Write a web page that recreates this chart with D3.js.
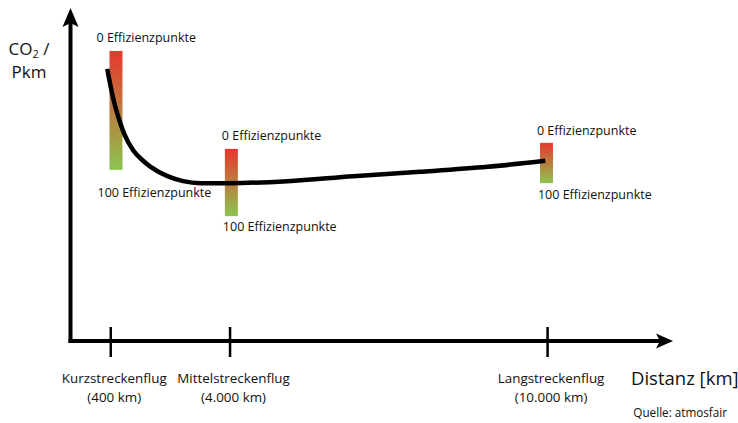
<!DOCTYPE html>
<html>
<head>
<meta charset="utf-8">
<script src="https://cdn.jsdelivr.net/npm/d3@7"></script>
<style>
  html, body { margin: 0; padding: 0; background: #fff; }
  svg { display: block; font-family: "Open Sans", "Noto Sans", sans-serif; fill: #111; }
</style>
</head>
<body>
<div id="chart"></div>
<script>
// distance axis runs 0..100 (schematic, not to scale), CO2 axis 0..100
const categories = ["Kurzstreckenflug", "Mittelstreckenflug", "Langstreckenflug"]
const distanceLabels = ["(400 km)", "(4.000 km)", "(10.000 km)"]
const categoryPos = [6.6, 26.4, 79.1]

// efficiency bands: "0 Effizienzpunkte" at top, "100 Effizienzpunkte" at bottom
const bandX = [7.55, 26.7, 79.0]
const bandTop = [87.1, 57.7, 59.5]
const bandBottom = [51.4, 37.5, 47.4]

// CO2 per passenger km over distance
const curveX = [6.1, 7.0, 7.9, 8.9, 10.4, 12.0, 13.3, 16.1, 18.7, 21.6, 26.4, 36.0, 46.9, 58.0, 69.2, 78.8]
const curveY = [81.7, 73.5, 67.5, 62.3, 57.3, 54.2, 52.3, 49.5, 48.0, 47.4, 47.4, 48.0, 49.5, 50.8, 52.3, 54.1]

const width = 738
const height = 423
const barWidth = 13
// label nudges, px (first band's labels sit further left / lower to dodge the curve)
const labelDx = [-13, -3, -3]
const topDy = [-9, -9, -8]
const bottomDy = [27, 15, 16]

const svg = d3.select("#chart").append("svg")
  .attr("width", width)
  .attr("height", height)

const x = d3.scaleLinear().domain([0, 100]).range([70.5, 673])
const y = d3.scaleLinear().domain([0, 100]).range([341, 8])

const defs = svg.append("defs")
const grad = defs.append("linearGradient")
  .attr("id", "eff")
  .attr("x1", 0).attr("y1", 0).attr("x2", 0).attr("y2", 1)
grad.append("stop").attr("offset", "0%").attr("stop-color", "#e8372e")
grad.append("stop").attr("offset", "100%").attr("stop-color", "#8cc44f")

// axes
const xAxis = d3.axisBottom(x).tickValues(categoryPos).tickSize(16).tickFormat("")
const gx = svg.append("g").attr("transform", `translate(0,${y(0)})`).call(xAxis)
gx.select(".domain").remove()
gx.selectAll(".tick line")
  .attr("y1", -14)
  .attr("y2", 16)
  .attr("stroke", "#000")
  .attr("stroke-width", 2.5)

svg.append("line")
  .attr("x1", x(0) - 2).attr("x2", x(100) - 12)
  .attr("y1", y(0)).attr("y2", y(0))
  .attr("stroke", "#000").attr("stroke-width", 4)
svg.append("line")
  .attr("x1", x(0)).attr("x2", x(0))
  .attr("y1", y(0) + 2).attr("y2", y(100) + 12)
  .attr("stroke", "#000").attr("stroke-width", 4)

// arrow heads
const ax = x(100), ay = y(0)
svg.append("path")
  .attr("d", `M${ax},${ay} L${ax - 17},${ay - 7.5} L${ax - 13},${ay} L${ax - 17},${ay + 7.5} Z`)
  .attr("fill", "#000")
const ux = x(0), uy = y(100)
svg.append("path")
  .attr("d", `M${ux},${uy} L${ux - 8},${uy + 19} L${ux},${uy + 15} L${ux + 8},${uy + 19} Z`)
  .attr("fill", "#000")

// category labels
const cat = svg.append("g").attr("text-anchor", "middle").style("font-size", "13.4px")
cat.selectAll(".cat")
  .data(categories)
  .join("text")
  .attr("class", "cat")
  .attr("x", (d, i) => x(categoryPos[i]) + 4)
  .attr("y", 383)
  .text((d) => d)
cat.selectAll(".dist")
  .data(distanceLabels)
  .join("text")
  .attr("class", "dist")
  .attr("x", (d, i) => x(categoryPos[i]) + 4)
  .attr("y", 402)
  .text((d) => d)

// efficiency bands
svg.selectAll(".band")
  .data(bandX)
  .join("rect")
  .attr("class", "band")
  .attr("x", (d) => x(d) - barWidth / 2)
  .attr("width", barWidth)
  .attr("y", (d, i) => y(bandTop[i]))
  .attr("height", (d, i) => y(bandBottom[i]) - y(bandTop[i]))
  .attr("fill", "url(#eff)")

const bandLabels = svg.append("g").style("font-size", "12.5px")
bandLabels.selectAll(".top")
  .data(bandX)
  .join("text")
  .attr("class", "top")
  .attr("x", (d, i) => x(d) - barWidth / 2 + labelDx[i])
  .attr("y", (d, i) => y(bandTop[i]) + topDy[i])
  .text("0 Effizienzpunkte")
bandLabels.selectAll(".bottom")
  .data(bandX)
  .join("text")
  .attr("class", "bottom")
  .attr("x", (d, i) => x(d) - barWidth / 2 + labelDx[i] + 1)
  .attr("y", (d, i) => y(bandBottom[i]) + bottomDy[i])
  .text("100 Effizienzpunkte")

// curve
const line = d3.line()
  .x((d, i) => x(curveX[i]))
  .y((d) => y(d))
  .curve(d3.curveMonotoneX)
svg.append("path")
  .datum(curveY)
  .attr("d", line)
  .attr("fill", "none")
  .attr("stroke", "#000")
  .attr("stroke-width", 4.5)

// axis titles
const yt = svg.append("text")
  .attr("text-anchor", "middle")
  .attr("x", 29)
  .attr("y", 55)
  .style("font-size", "17px")
yt.append("tspan").text("CO")
yt.append("tspan").text("2").style("font-size", "11px").attr("dy", 3)
yt.append("tspan").text(" /").attr("dy", -3)
svg.append("text")
  .attr("text-anchor", "middle")
  .attr("x", 29)
  .attr("y", 78)
  .style("font-size", "17px")
  .text("Pkm")

svg.append("text")
  .attr("x", 631)
  .attr("y", 385)
  .style("font-size", "18.5px")
  .text("Distanz [km]")

svg.append("text")
  .attr("x", 727)
  .attr("y", 417)
  .attr("text-anchor", "end")
  .style("font-size", "11.7px")
  .text("Quelle: atmosfair")
</script>
</body>
</html>
